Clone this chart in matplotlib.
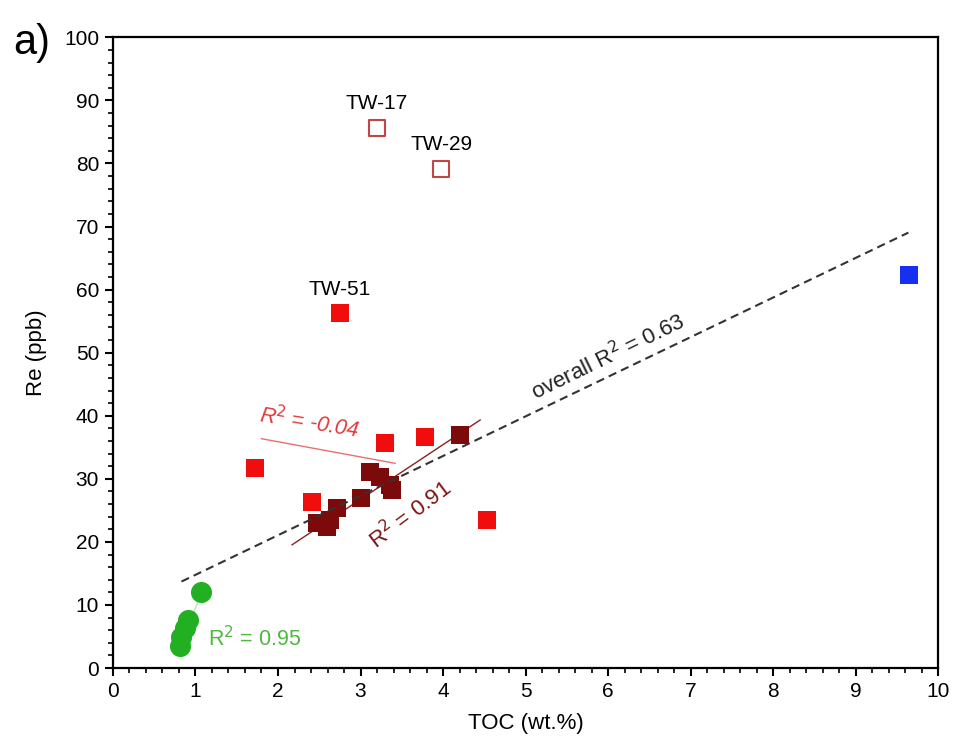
import numpy as np
import matplotlib.pyplot as plt
from matplotlib.ticker import MultipleLocator

plt.rcParams['font.family'] = ['Liberation Sans', 'DejaVu Sans']

# red shales (filled)
red_toc = [2.75, 1.72, 3.30, 3.78, 2.41, 4.53]
red_re = [56.3, 31.7, 35.7, 36.6, 26.3, 23.5]
# outliers (open squares)
open_toc = [3.20, 3.98]
open_re = [85.6, 79.1]
open_names = ['TW-17', 'TW-29']
# dark red group
dark_toc = [4.21, 3.12, 3.24, 3.36, 3.38, 3.00, 2.71, 2.63, 2.47, 2.59]
dark_re = [36.9, 31.1, 30.3, 29.0, 28.2, 26.9, 25.4, 23.5, 23.0, 22.3]
# blue sample
blue_toc = [9.65]
blue_re = [62.3]
# green group
green_toc = [1.07, 0.91, 0.87, 0.83, 0.81]
green_re = [12.0, 7.6, 6.3, 4.9, 3.5]

# regression lines: (slope, intercept, xmin, xmax)
fit_all = (6.28, 8.5, 0.83, 9.64)
fit_dark = (8.68, 0.7, 2.17, 4.45)
fit_red = (-2.41, 40.7, 1.80, 3.42)
fit_green = (34.0, -24.5, 0.81, 1.08)

fig = plt.figure(figsize=(9.55, 7.54), dpi=100)
ax = fig.add_axes([0.1183, 0.114, 0.864, 0.8365])


def fit_line(f, **kw):
    m, b, x0, x1 = f
    xs = np.array([x0, x1])
    ax.plot(xs, m * xs + b, **kw)


fit_line(fit_green, color='#b8e8b0', lw=1.0, zorder=1)
fit_line(fit_red, color='#e87070', lw=1.0, zorder=1)
fit_line(fit_dark, color='#8a2020', lw=1.0, zorder=1)
fit_line(fit_all, color='#333333', lw=1.5, ls=(0, (4, 2.5)), zorder=4)

ax.scatter(green_toc, green_re, s=200, marker='o', color='#22b022', zorder=3)
ax.scatter(red_toc, red_re, s=150, marker='s', color='#f20d0d', lw=0, zorder=3)
ax.scatter(dark_toc, dark_re, s=150, marker='s', color='#7c0a0a', lw=0, zorder=3)
ax.scatter(blue_toc, blue_re, s=150, marker='s', color='#1530f0', lw=0, zorder=3)
ax.scatter(open_toc, open_re, s=140, marker='s', facecolor='white',
           edgecolor='#c04545', lw=1.5, zorder=3)

for x, y, name in zip(open_toc, open_re, open_names):
    ax.text(x, y + 2.4, name, ha='center', va='bottom', fontsize=15)
ax.text(red_toc[0], red_re[0] + 2.2, 'TW-51', ha='center', va='bottom',
        fontsize=15)

ax.text(6.0, 49.3, 'overall R$^2$ = 0.63', rotation=26, ha='center',
        va='center', fontsize=16, color='#222222')
ax.text(3.6, 24.3, 'R$^2$ = 0.91', rotation=37, ha='center', va='center',
        fontsize=16, color='#7a1515')
ax.text(2.38, 38.9, 'R$^2$ = -0.04', rotation=-9, ha='center', va='center',
        fontsize=15.5, color='#e03a3a', style='italic')
ax.text(1.15, 4.6, 'R$^2$ = 0.95', ha='left', va='center', fontsize=15.5,
        color='#50b840')

ax.set_xlim(0, 10)
ax.set_ylim(0, 100)
ax.xaxis.set_major_locator(MultipleLocator(1))
ax.xaxis.set_minor_locator(MultipleLocator(0.2))
ax.yaxis.set_major_locator(MultipleLocator(10))
ax.yaxis.set_minor_locator(MultipleLocator(2))
ax.tick_params(which='major', length=6, width=1.5, labelsize=15, pad=4)
ax.tick_params(which='minor', length=3.5, width=1.2)
for sp in ax.spines.values():
    sp.set_linewidth(1.6)

ax.set_xlabel('TOC (wt.%)', fontsize=16, labelpad=9)
ax.set_ylabel('Re (ppb)', fontsize=16, labelpad=12)
fig.text(0.014, 0.943, 'a)', fontsize=30, ha='left', va='center')

fig.savefig('out.png', dpi=100)
